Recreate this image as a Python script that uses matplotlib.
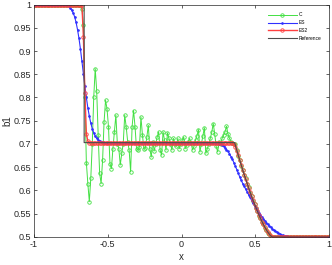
import numpy as np
import matplotlib
matplotlib.use('Agg')
import matplotlib.pyplot as plt

plt.rcParams['font.family'] = ['Liberation Sans', 'DejaVu Sans']

# cell centres, 200 cells on [-1, 1]
x = np.linspace(-0.995, 0.995, 200)

# scheme C (oscillating)
c_vals = [1.0] * 32 + [
    0.99, 0.955, 0.80, 0.66, 0.615, 0.576, 0.626, 0.70, 0.80, 0.862,
    0.815, 0.72, 0.637, 0.615, 0.665, 0.747, 0.794, 0.776, 0.737, 0.658,
    0.647, 0.690, 0.726, 0.762, 0.701, 0.690, 0.655, 0.680, 0.701, 0.762,
    0.737, 0.705, 0.687, 0.640, 0.737, 0.772, 0.737, 0.690, 0.687, 0.694,
    0.758, 0.720, 0.690, 0.692, 0.715, 0.740, 0.690, 0.672, 0.705, 0.685,
    0.700, 0.715, 0.726, 0.687, 0.676, 0.726, 0.708, 0.687, 0.724, 0.712,
    0.701, 0.687, 0.712, 0.701, 0.695, 0.712, 0.690, 0.700, 0.708, 0.715,
    0.690, 0.698, 0.705, 0.712, 0.702, 0.687, 0.695, 0.708, 0.718, 0.731,
    0.683, 0.700, 0.718, 0.735, 0.680, 0.690, 0.700, 0.712, 0.725, 0.744,
    0.722, 0.695, 0.683, 0.705, 0.700, 0.712, 0.719, 0.726, 0.738, 0.722,
    0.712, 0.705, 0.702, 0.701,
    0.699, 0.688, 0.674, 0.666, 0.653, 0.645, 0.633, 0.626, 0.614, 0.607,
    0.595, 0.589, 0.578, 0.572, 0.562, 0.556, 0.546, 0.541, 0.532, 0.528,
    0.520, 0.516, 0.509, 0.506, 0.501, 0.499,
] + [0.5] * 38

# scheme ES (diffusive)
es_vals = [1.0] * 21 + [
    0.999, 0.998, 0.996, 0.993, 0.988, 0.982, 0.974, 0.962, 0.946, 0.927,
    0.904, 0.878, 0.851, 0.824, 0.800, 0.778, 0.760, 0.745, 0.733, 0.724,
    0.717, 0.712, 0.709, 0.707, 0.705, 0.704,
] + [0.703] * 77 + [
    0.702, 0.701, 0.700, 0.698, 0.695, 0.692, 0.688, 0.684, 0.679, 0.673,
    0.667, 0.660, 0.652, 0.645, 0.637, 0.629, 0.622, 0.615, 0.609, 0.603,
    0.597, 0.591, 0.585, 0.579, 0.573, 0.567, 0.562, 0.557, 0.552, 0.547,
    0.543, 0.539, 0.535, 0.531, 0.527, 0.524, 0.521, 0.518, 0.515, 0.513,
    0.511, 0.509, 0.507, 0.505, 0.504, 0.503, 0.502, 0.502, 0.501, 0.501,
    0.500,
] + [0.5] * 25

# scheme ES2 (sharp)
es2_vals = [1.0] * 32 + [0.998, 0.93, 0.81, 0.722, 0.706] + [0.703] * 97 + [
    0.702, 0.700, 0.694, 0.685,
    0.676, 0.665, 0.655, 0.644, 0.634, 0.625, 0.615, 0.606, 0.596, 0.588,
    0.579, 0.571, 0.563, 0.555, 0.547, 0.540, 0.533, 0.527, 0.521, 0.515,
    0.510, 0.506, 0.503, 0.501,
] + [0.5] * 38

# exact solution
ref_x = [-1, -0.66, -0.66, 0.36, 0.38, 0.40, 0.42, 0.44, 0.46, 0.48, 0.50,
         0.52, 0.54, 0.56, 0.58, 0.60, 0.615, 1]
ref_y = [1.0, 1.0, 0.703, 0.703, 0.681, 0.660, 0.639, 0.620, 0.601, 0.583,
         0.567, 0.551, 0.537, 0.524, 0.513, 0.504, 0.5, 0.5]

xticks = [-1, -0.5, 0, 0.5, 1]
xtick_labels = ['-1', '-0.5', '0', '0.5', '1']
yticks = [0.5, 0.55, 0.6, 0.65, 0.7, 0.75, 0.8, 0.85, 0.9, 0.95, 1]
ytick_labels = ['0.5', '0.55', '0.6', '0.65', '0.7', '0.75', '0.8', '0.85',
                '0.9', '0.95', '1']

fig = plt.figure(figsize=(3.32, 2.65), dpi=100)
ax = fig.add_axes([0.1024, 0.1057, 0.8886, 0.8773])

ax.plot(x, c_vals, '-o', color='#44e044', lw=0.7, ms=2.5, mfc='none', mew=0.6, label='C')
ax.plot(x, es_vals, color='#3030ff', lw=0.8, marker='.', ms=1.8, label='ES')
ax.plot(x, es2_vals, '-o', color='#ff4040', lw=1.0, ms=2.5, mfc='none', mew=0.6, label='ES2')
ax.plot(ref_x, ref_y, color='0.3', lw=0.8, label='Reference')

ax.set_xlim(-1, 1)
ax.set_ylim(0.5, 1)
ax.set_xticks(xticks)
ax.set_xticklabels(xtick_labels)
ax.set_yticks(yticks)
ax.set_yticklabels(ytick_labels)
ax.tick_params(direction='in', top=True, right=True, length=2.5, width=0.5,
               labelsize=6.5, colors='#262626', pad=2)
for s in ax.spines.values():
    s.set_linewidth(0.5)
    s.set_color('#262626')
ax.set_xlabel('x', fontsize=7, color='#262626', labelpad=2)
ax.set_ylabel('b1', fontsize=7, color='#262626', labelpad=1)

ax.legend(loc='upper right', bbox_to_anchor=(0.99, 0.985), frameon=False,
          fontsize=3.5, handlelength=6, labelspacing=0.6, handletextpad=0.4)

fig.savefig('out.png', dpi=100)
